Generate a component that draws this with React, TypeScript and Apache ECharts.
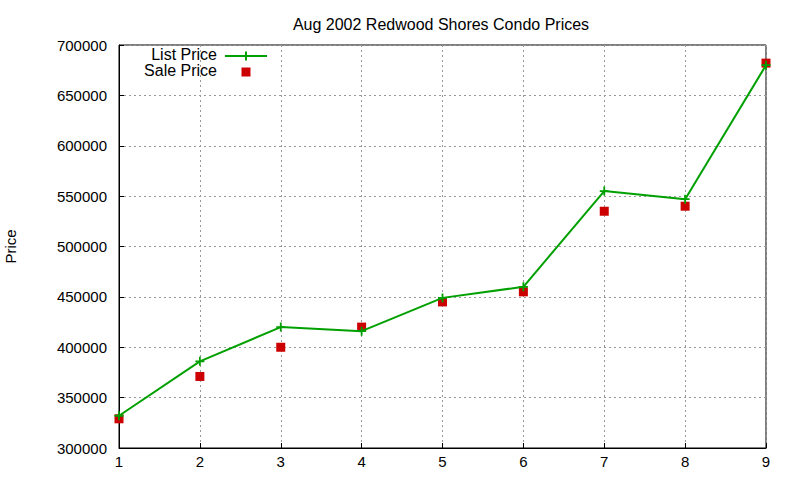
import React, { useEffect, useRef } from "react";
import * as echarts from "echarts";

const months = [1, 2, 3, 4, 5, 6, 7, 8, 9];
const listPrice = [332000, 386000, 420000, 416000, 449000, 460000, 555000, 547000, 680000];
const salePrice = [329000, 371000, 400000, 420000, 445000, 455000, 535000, 540000, 682000];

const plusIcon = "path://M4,0H6V4H10V6H6V10H4V6H0V4H4Z";
const FONT = "'Liberation Sans', Arial, sans-serif";
const GREEN = "#00a000";
const RED = "#cc0000";

function App() {
  const chartRef = useRef<HTMLDivElement>(null);

  // eslint-disable-next-line consistent-return
  useEffect(() => {
    document.body.style.margin = "0";
    if (chartRef.current) {
      const chart = echarts.init(chartRef.current, undefined, { renderer: "svg" });
      const options: echarts.EChartsOption = {
        animation: false,
        textStyle: { fontFamily: FONT },
        title: {
          text: "Aug 2002 Redwood Shores Condo Prices",
          left: 436,
          top: 11,
          textAlign: "center",
          textStyle: { fontSize: 16, fontWeight: "normal", color: "#000", fontFamily: FONT },
        },
        grid: {
          left: 119,
          right: 34,
          top: 45,
          bottom: 32,
          show: true,
          borderColor: "#000",
          borderWidth: 1,
          outerBoundsMode: "none",
        } as any,
        // hand-drawn key, gnuplot style: text right-aligned, sample to its right
        graphic: [
          {
            type: "text",
            right: 800 - 217,
            top: 46,
            style: { text: "List Price", fill: "#000", font: `16px ${FONT}`, align: "right" },
          },
          {
            type: "line",
            shape: { x1: 225, y1: 56, x2: 267, y2: 56 },
            style: { stroke: GREEN, lineWidth: 2 },
          },
          {
            type: "rect",
            shape: { x: 245, y: 51.5, width: 2, height: 9 },
            style: { fill: GREEN },
          },
          {
            type: "text",
            right: 800 - 217,
            top: 62,
            style: { text: "Sale Price", fill: "#000", font: `16px ${FONT}`, align: "right" },
          },
          {
            type: "rect",
            shape: { x: 241.5, y: 67.5, width: 9, height: 9 },
            style: { fill: RED },
          },
        ],
        xAxis: {
          type: "value",
          min: 1,
          max: 9,
          interval: 1,
          axisLine: { show: true, lineStyle: { color: "#000" } },
          axisTick: { show: true, inside: true, length: 5, lineStyle: { color: "#000" } },
          axisLabel: { fontSize: 15, color: "#000", margin: 6 },
          splitLine: { show: true, lineStyle: { color: "#999", type: [2, 3] } },
        },
        yAxis: {
          type: "value",
          min: 300000,
          max: 700000,
          interval: 50000,
          name: "Price",
          nameLocation: "middle",
          nameRotate: 90,
          nameGap: 101,
          nameTextStyle: { fontSize: 15, color: "#000" },
          axisLine: { show: true, lineStyle: { color: "#000" } },
          axisTick: { show: true, inside: true, length: 5, lineStyle: { color: "#000" } },
          axisLabel: { fontSize: 15, color: "#000", margin: 12, formatter: (v: number) => String(v) },
          splitLine: { show: true, lineStyle: { color: "#999", type: [2, 3] } },
        },
        series: [
          {
            name: "List Price",
            type: "line",
            data: months.map((m, i) => [m, listPrice[i]]),
            symbol: plusIcon,
            symbolSize: 9,
            showAllSymbol: true,
            itemStyle: { color: GREEN },
            lineStyle: { color: GREEN, width: 2 },
          },
          {
            name: "Sale Price",
            type: "scatter",
            data: months.map((m, i) => [m, salePrice[i]]),
            symbol: "rect",
            symbolSize: 9,
            itemStyle: { color: RED, opacity: 1 },
          },
        ],
      };
      chart.setOption(options);
      return () => {
        chart.dispose();
      };
    }
  }, []);

  return <div ref={chartRef} style={{ width: "800px", height: "480px" }} />;
}

export default App;
